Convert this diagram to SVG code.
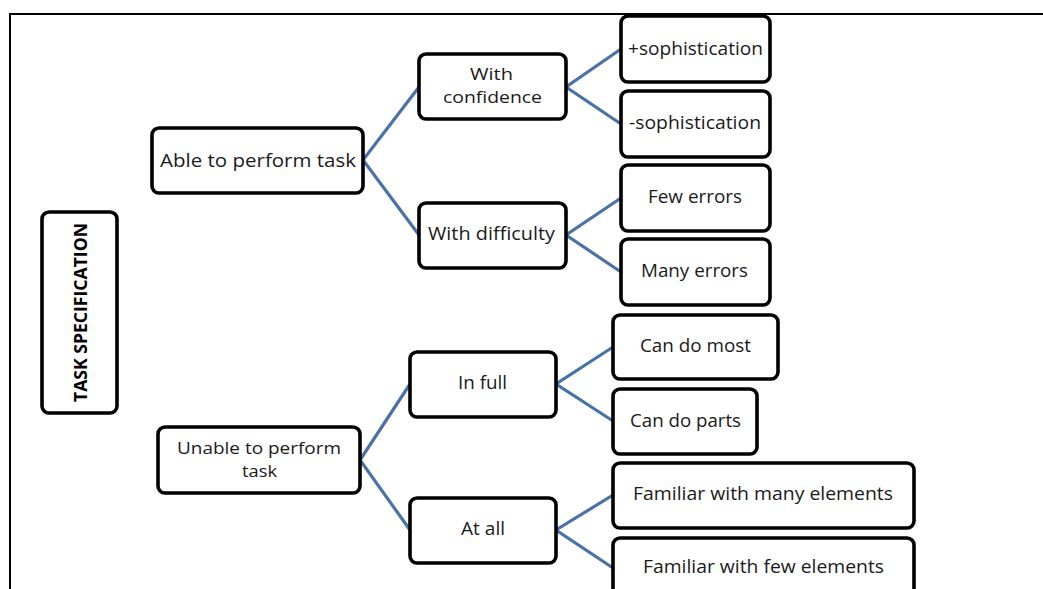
<svg xmlns="http://www.w3.org/2000/svg" width="1043" height="589" viewBox="0 0 1043 589">
  <style>
    .box { fill: #ffffff; stroke: #000000; stroke-width: 3.6; }
    .lbl { font-family: "Open Sans", "Liberation Sans", sans-serif; font-size: 19px; fill: #1a1a1a; text-anchor: middle; }
    .lbl2 { font-size: 17px; }
    .title { font-family: "Open Sans", "Liberation Sans", sans-serif; font-size: 18px; font-weight: bold; fill: #000000; text-anchor: middle; }
    .link { stroke: #4a72a8; stroke-width: 3.2; fill: none; }
    .frame { stroke: #000000; stroke-width: 2; fill: none; }
  </style>
  <rect width="1043" height="589" fill="#ffffff"/>

  <!-- outer frame: top and left edges -->
  <path class="frame" d="M10 589 V14 H1043"/>

  <!-- connectors -->
  <g id="connectors">
    <path class="link" d="M419 87 L363 160 L419 235"/>
    <path class="link" d="M621 49 L566 87 L621 124"/>
    <path class="link" d="M621 198 L566 235 L621 272"/>
    <path class="link" d="M410 384 L360 460 L410 530"/>
    <path class="link" d="M613 347 L556 384 L613 421"/>
    <path class="link" d="M613 495 L556 530 L613 568"/>
  </g>

  <g id="task-specification">
    <rect class="box" x="42" y="212" width="75" height="201" rx="7"/>
    <text class="title" transform="translate(87 312.5) rotate(-90)" textLength="179" lengthAdjust="spacingAndGlyphs">TASK SPECIFICATION</text>
  </g>

  <g id="able">
    <rect class="box" x="152" y="128" width="211" height="65" rx="7"/>
    <text class="lbl" x="258" y="167" textLength="196" lengthAdjust="spacingAndGlyphs">Able to perform task</text>
  </g>

  <g id="unable">
    <rect class="box" x="158" y="427" width="202" height="66" rx="7"/>
    <text class="lbl lbl2" x="259" y="454" textLength="164" lengthAdjust="spacingAndGlyphs">Unable to perform</text>
    <text class="lbl lbl2" x="259.5" y="477" textLength="35" lengthAdjust="spacingAndGlyphs">task</text>
  </g>

  <g id="with-confidence">
    <rect class="box" x="419" y="54" width="147" height="65" rx="7"/>
    <text class="lbl lbl2" x="491.5" y="80" textLength="43" lengthAdjust="spacingAndGlyphs">With</text>
    <text class="lbl lbl2" x="492.5" y="103" textLength="99" lengthAdjust="spacingAndGlyphs">confidence</text>
  </g>

  <g id="with-difficulty">
    <rect class="box" x="419" y="203" width="147" height="65" rx="7"/>
    <text class="lbl" x="491.5" y="240" textLength="127" lengthAdjust="spacingAndGlyphs">With difficulty</text>
  </g>

  <g id="plus-sophistication">
    <rect class="box" x="621" y="16" width="149" height="66" rx="7"/>
    <text class="lbl" x="695.5" y="55" textLength="135" lengthAdjust="spacingAndGlyphs">+sophistication</text>
  </g>

  <g id="minus-sophistication">
    <rect class="box" x="621" y="91" width="149" height="66" rx="7"/>
    <text class="lbl" x="695" y="129" textLength="132" lengthAdjust="spacingAndGlyphs">-sophistication</text>
  </g>

  <g id="few-errors">
    <rect class="box" x="621" y="165" width="149" height="66" rx="7"/>
    <text class="lbl" x="695" y="203" textLength="94" lengthAdjust="spacingAndGlyphs">Few errors</text>
  </g>

  <g id="many-errors">
    <rect class="box" x="621" y="239" width="149" height="66" rx="7"/>
    <text class="lbl" x="694.5" y="277" textLength="107" lengthAdjust="spacingAndGlyphs">Many errors</text>
  </g>

  <g id="in-full">
    <rect class="box" x="410" y="352" width="146" height="65" rx="7"/>
    <text class="lbl" x="482.5" y="389" textLength="49" lengthAdjust="spacingAndGlyphs">In full</text>
  </g>

  <g id="at-all">
    <rect class="box" x="410" y="498" width="146" height="65" rx="7"/>
    <text class="lbl" x="483" y="535" textLength="44" lengthAdjust="spacingAndGlyphs">At all</text>
  </g>

  <g id="can-do-most">
    <rect class="box" x="613" y="315" width="165" height="64" rx="7"/>
    <text class="lbl" x="695.5" y="352" textLength="111" lengthAdjust="spacingAndGlyphs">Can do most</text>
  </g>

  <g id="can-do-parts">
    <rect class="box" x="613" y="389" width="144" height="65" rx="7"/>
    <text class="lbl" x="685.5" y="427" textLength="111" lengthAdjust="spacingAndGlyphs">Can do parts</text>
  </g>

  <g id="familiar-many">
    <rect class="box" x="613" y="463" width="301" height="65" rx="7"/>
    <text class="lbl" x="763" y="500" textLength="260" lengthAdjust="spacingAndGlyphs">Familiar with many elements</text>
  </g>

  <g id="familiar-few">
    <rect class="box" x="613" y="538" width="301" height="65" rx="7"/>
    <text class="lbl" x="763.5" y="573" textLength="241" lengthAdjust="spacingAndGlyphs">Familiar with few elements</text>
  </g>
</svg>
